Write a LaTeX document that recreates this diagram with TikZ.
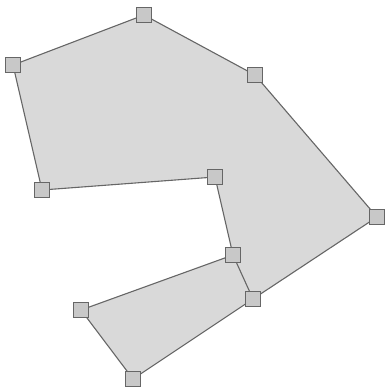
\documentclass[tikz,border=0pt]{standalone}
\usepackage{tikz}
\definecolor{areagray}{HTML}{D9D9D9}
\definecolor{edgegray}{HTML}{666666}

\begin{document}
\begin{tikzpicture}[x=1pt, y=-1pt,
    handle/.style={rectangle, draw=edgegray, line width=1.6pt, fill=areagray!92!black,
      minimum size=15pt, inner sep=0pt},
    side/.style={draw=edgegray, line width=1.1pt},
  ]
  \useasboundingbox (0,0) rectangle (387,392);
  % vertices of the outline
  \coordinate (p1) at (13,65);
  \coordinate (p2) at (144,15);
  \coordinate (p3) at (255,75);
  \coordinate (p4) at (377,217);
  \coordinate (p5) at (253,299);
  \coordinate (p6) at (133,379);
  \coordinate (p7) at (81,310);
  \coordinate (p8) at (233,255);
  \coordinate (p9) at (215,177);
  \coordinate (p10) at (42,190);
  % filled area
  \fill[areagray] (p1) -- (p2) -- (p3) -- (p4) -- (p5) -- (p6) -- (p7) -- (p8)
    -- (p9) -- (p10) -- cycle;
  % outline
  \draw[side] (p1) -- (p2) -- (p3) -- (p4) -- (p5) -- (p6) -- (p7) -- (p8)
    -- (p9) -- (p10) -- cycle;
  \draw[side] (p8) -- (p5);
  % handles
  \foreach \i in {1,...,10}
    \node[handle] (h\i) at (p\i) {};
\end{tikzpicture}
\end{document}
